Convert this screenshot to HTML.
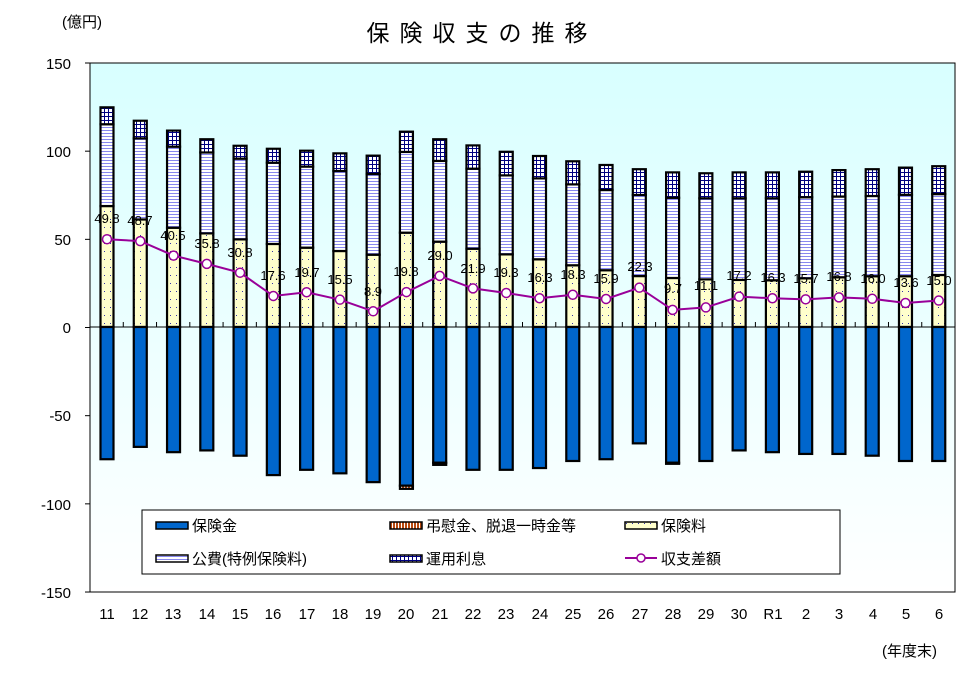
<!DOCTYPE html>
<html><head><meta charset="utf-8"><style>
body{margin:0;background:#fff;}
svg text{font-family:"Liberation Sans","Noto Sans CJK JP",sans-serif;}
</style></head><body>
<svg id="s" width="971" height="673" xmlns="http://www.w3.org/2000/svg">
<defs>
<linearGradient id="bg" x1="0" y1="0" x2="0" y2="1"><stop offset="0" stop-color="#d8ffff"/><stop offset="1" stop-color="#ffffff"/></linearGradient>
<pattern id="dots" width="6" height="8" patternUnits="userSpaceOnUse"><rect width="6" height="8" fill="#ffffcc"/><rect x="2" y="3" width="1" height="1" fill="#3333aa"/></pattern>
<pattern id="stripe" width="4" height="3" patternUnits="userSpaceOnUse"><rect width="4" height="3" fill="#fff"/><rect y="1" width="4" height="1" fill="#8888ee"/></pattern>
<pattern id="grid" width="4" height="4" patternUnits="userSpaceOnUse"><rect width="4" height="4" fill="#fff"/><rect width="4" height="1" fill="#000080"/><rect width="1" height="4" fill="#000080"/></pattern>
<pattern id="orange" width="3" height="4" patternUnits="userSpaceOnUse"><rect width="3" height="4" fill="#fff"/><rect width="2" height="4" fill="#b84a10"/></pattern>
</defs>
<rect x="90" y="63" width="865" height="529" fill="url(#bg)" stroke="#000" stroke-width="1"/>
<g id="bars"></g>
<g font-size="15" text-anchor="end" fill="#000">
<text x="71" y="69">150</text><text x="71" y="157">100</text><text x="71" y="245">50</text><text x="71" y="333">0</text><text x="71" y="421">-50</text><text x="71" y="510">-100</text><text x="71" y="598">-150</text>
</g>
<g font-size="15" text-anchor="middle">
<text x="107" y="619">11</text><text x="140" y="619">12</text><text x="173" y="619">13</text><text x="207" y="619">14</text><text x="240" y="619">15</text><text x="273" y="619">16</text><text x="307" y="619">17</text><text x="340" y="619">18</text><text x="373" y="619">19</text><text x="406" y="619">20</text><text x="440" y="619">21</text><text x="473" y="619">22</text><text x="506" y="619">23</text><text x="540" y="619">24</text><text x="573" y="619">25</text><text x="606" y="619">26</text><text x="640" y="619">27</text><text x="673" y="619">28</text><text x="706" y="619">29</text><text x="739" y="619">30</text><text x="773" y="619">R1</text><text x="806" y="619">2</text><text x="839" y="619">3</text><text x="873" y="619">4</text><text x="906" y="619">5</text><text x="939" y="619">6</text>
</g>
<g font-size="13" text-anchor="middle" id="lbl">
<text x="107" y="223">49.8</text><text x="140" y="225">48.7</text><text x="173" y="240">40.5</text><text x="207" y="248">35.8</text><text x="240" y="257">30.8</text><text x="273" y="280">17.6</text><text x="307" y="277">19.7</text><text x="340" y="284">15.5</text><text x="373" y="296">8.9</text><text x="406" y="276">19.8</text><text x="440" y="260">29.0</text><text x="473" y="273">21.9</text><text x="506" y="277">19.3</text><text x="540" y="282">16.3</text><text x="573" y="279">18.3</text><text x="606" y="283">15.9</text><text x="640" y="271">22.3</text><text x="673" y="293">9.7</text><text x="706" y="290">11.1</text><text x="739" y="280">17.2</text><text x="773" y="282">16.3</text><text x="806" y="283">15.7</text><text x="839" y="281">16.8</text><text x="873" y="283">16.0</text><text x="906" y="287">13.6</text><text x="939" y="285">15.0</text>
</g>
<text x="482" y="41" font-size="23" text-anchor="middle" letter-spacing="10">保険収支の推移</text>
<text x="62" y="27" font-size="15">(億円)</text>
<text x="882" y="656" font-size="15">(年度末)</text>
<rect x="142" y="510" width="698" height="64" fill="#fff" stroke="#000"/>
<g font-size="15">
<rect x="156" y="522" width="32" height="7" fill="#0066cc" stroke="#000" stroke-width="1.5"/><text x="192" y="531">保険金</text>
<rect x="390" y="522" width="32" height="7" fill="url(#orange)" stroke="#000" stroke-width="1.5"/><text x="426" y="531">弔慰金、脱退一時金等</text>
<rect x="625" y="522" width="32" height="7" fill="url(#dots)" stroke="#000" stroke-width="1.5"/><text x="661" y="531">保険料</text>
<rect x="156" y="555" width="32" height="7" fill="url(#stripe)" stroke="#000" stroke-width="1.5"/><text x="192" y="564">公費(特例保険料)</text>
<rect x="390" y="555" width="32" height="7" fill="url(#grid)" stroke="#000" stroke-width="1.5"/><text x="426" y="564">運用利息</text>
<line x1="625" y1="558" x2="657" y2="558" stroke="#990099" stroke-width="2"/><circle cx="641" cy="558" r="4" fill="#fff" stroke="#990099" stroke-width="1.5"/><text x="661" y="564">収支差額</text>
</g>
</svg>
<script>
var Y=v=>327-v*1.763;
var yel=[68.6,61,56.3,53.1,49.7,47.1,45,43.1,41,53.5,48.4,44.4,41.2,38.4,35,32.2,28.9,27.8,27,26.7,26.5,27.6,28.2,28.8,28.8,29.5];
var str=[115,107,102.3,99,95.5,93.2,91,88.5,86.8,99.3,94.2,89.8,86,84.3,80.9,77.7,74.9,73.3,73,73,73,73.6,74,74.3,75,75.4];
var top_=[124.6,117,111.4,106.5,102.8,101.1,100,98.5,97.2,110.8,106.5,103,99.4,97,94,91.9,89.5,87.7,87.2,87.7,87.7,88.1,89,89.5,90.4,91.2];
var neg=[-75,-68,-71,-70,-73,-84,-81,-83,-88,-90,-77,-81,-81,-80,-76,-75,-66,-77,-76,-70,-71,-72,-72,-73,-76,-76];
var ch=[0,0,0,0,0,0,0,0,0,-1.8,-1.2,0,0,0,0,0,0,-0.6,0,0,0,0,0,0,0,0];
var ln=[49.8,48.7,40.5,35.8,30.8,17.6,19.7,15.5,8.9,19.8,29.0,21.9,19.3,16.3,18.3,15.9,22.3,9.7,11.1,17.2,16.3,15.7,16.8,16.0,13.6,15.0];
var s="",w=13,pts=[];
function r(x,y1,y2,f){var a=Math.min(y1,y2),h=Math.abs(y2-y1);return '<rect x="'+(x-w/2)+'" y="'+a+'" width="'+w+'" height="'+h+'" fill="'+f+'" stroke="#000" stroke-width="2.2"/>';}
for(var i=0;i<26;i++){var x=107+i*33.27;
s+=r(x,Y(0),Y(yel[i]),"url(#dots)")+r(x,Y(yel[i]),Y(str[i]),"url(#stripe)")+r(x,Y(str[i]),Y(top_[i]),"url(#grid)");
s+=r(x,Y(0),Y(neg[i]),"#0066cc");
if(ch[i])s+=r(x,Y(neg[i]),Y(neg[i]+ch[i]),"url(#orange)");
pts.push(x+","+Y(ln[i]));}
s+='<line x1="90" y1="327" x2="955" y2="327" stroke="#000"/>';
for(var i=0;i<=26;i++){var x=90+i*33.27;s+='<line x1="'+x+'" y1="322" x2="'+x+'" y2="327" stroke="#000"/>';}
for(var k=0;k<7;k++){s+='<line x1="85" y1="'+(63+k*88.17)+'" x2="90" y2="'+(63+k*88.17)+'" stroke="#000"/>';}
s+='<polyline points="'+pts.join(" ")+'" fill="none" stroke="#990099" stroke-width="2"/>';
pts.forEach(p=>{var q=p.split(",");s+='<circle cx="'+q[0]+'" cy="'+q[1]+'" r="4.5" fill="#fff" stroke="#990099" stroke-width="1.5"/>';});
document.getElementById("bars").innerHTML=s;
</script>
</body></html>
